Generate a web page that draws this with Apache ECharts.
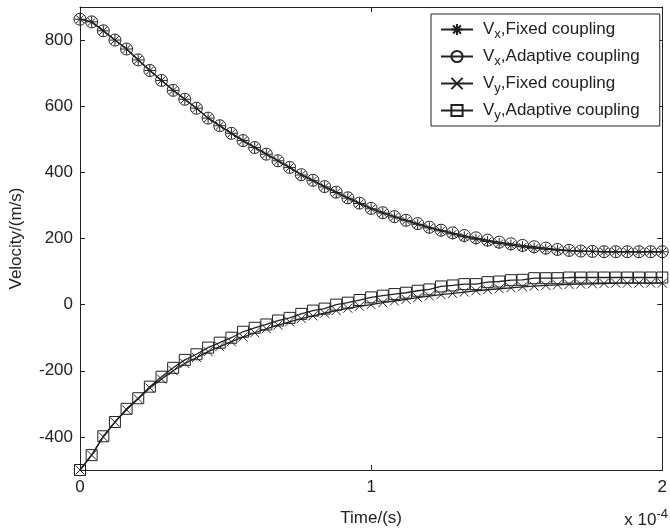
<!DOCTYPE html>
<html>
<head>
<meta charset="utf-8">
<script src="https://cdn.jsdelivr.net/npm/echarts@6/dist/echarts.min.js"></script>
<style>
  html, body { margin: 0; padding: 0; background: #fff; }
  #chart { width: 670px; height: 532px; }
</style>
</head>
<body>
<div id="chart"></div>
<script>
// Time (x 10^-4 s)
var times = [0, 0.04, 0.08, 0.12, 0.16, 0.2, 0.24, 0.28, 0.32, 0.36, 0.4, 0.44, 0.48, 0.52, 0.56, 0.6, 0.64, 0.68, 0.72, 0.76, 0.8, 0.84, 0.88, 0.92, 0.96, 1.0, 1.04, 1.08, 1.12, 1.16, 1.2, 1.24, 1.28, 1.32, 1.36, 1.4, 1.44, 1.48, 1.52, 1.56, 1.6, 1.64, 1.68, 1.72, 1.76, 1.8, 1.84, 1.88, 1.92, 1.96, 2.0];

var vxFixed = [863, 855, 828, 800, 773, 740, 708, 678, 648, 621, 594, 564, 541, 518, 496, 475, 455, 435, 415, 392, 375, 356, 339, 322, 306, 290, 277, 265, 254, 243, 232, 223, 214, 205, 198, 191, 185, 180, 175, 171, 168, 165, 163, 162, 161, 160, 160, 160, 160, 160, 160];
var vxAdaptive = [863, 855, 828, 800, 773, 740, 708, 678, 648, 621, 594, 564, 541, 518, 496, 475, 455, 435, 415, 393, 376, 357, 340, 323, 307, 291, 278, 266, 255, 245, 234, 225, 217, 209, 202, 195, 189, 184, 179, 175, 171, 167, 164, 162, 161, 160, 160, 160, 160, 160, 160];
var vyFixed = [-500, -455, -400, -355, -318, -285, -252, -225, -200, -178, -160, -142, -127, -112, -98, -85, -73, -62, -52, -42, -34, -26, -18, -11, -5, 0, 6, 11, 16, 21, 26, 30, 34, 38, 42, 45, 48, 51, 54, 56, 58, 60, 61, 62, 63, 64, 65, 65, 65, 65, 65];
var vyAdaptive = [-500, -455, -398, -355, -315, -283, -248, -218, -191, -167, -150, -130, -115, -100, -82, -70, -60, -48, -40, -28, -18, -12, 0, 6, 14, 22, 27, 32, 36, 42, 46, 55, 58, 62, 62, 68, 70, 74, 75, 80, 80, 80, 82, 82, 82, 82, 82, 82, 82, 82, 82];

var xTicks = [0, 1, 2];
var yTicks = [-400, -200, 0, 200, 400, 600, 800];

var seriesNames = ['vxFixed', 'vxAdaptive', 'vyFixed', 'vyAdaptive'];
var legendLabels = {
  vxFixed: ['V', 'x', ',Fixed coupling'],
  vxAdaptive: ['V', 'x', ',Adaptive coupling'],
  vyFixed: ['V', 'y', ',Fixed coupling'],
  vyAdaptive: ['V', 'y', ',Adaptive coupling']
};

var INK = '#222';
var FONT = '"Liberation Sans", Arial, sans-serif';

function pairs(ys) {
  return times.map(function (t, i) { return [t, ys[i]]; });
}

var asterisk = 'path://M0,-1L0,1M-1,0L1,0M-0.7,-0.7L0.7,0.7M-0.7,0.7L0.7,-0.7';
var cross = 'path://M-1,-1L1,1M-1,1L1,-1';

function mkSeries(name, data, symbol, size) {
  return {
    name: name,
    type: 'line',
    data: pairs(data),
    symbol: symbol,
    symbolSize: size,
    showAllSymbol: true,
    lineStyle: { color: INK, width: 1.3 },
    itemStyle: { color: 'rgba(0,0,0,0)', borderColor: INK, borderWidth: 1 },
    emphasis: { disabled: true },
    animation: false
  };
}

var chart = echarts.init(document.getElementById('chart'), null, { renderer: 'canvas' });

var axisCommon = {
  axisLine: { show: true, onZero: false, lineStyle: { color: INK, width: 1 } },
  axisTick: { show: true, inside: true, length: 5, lineStyle: { color: INK } },
  splitLine: { show: false }
};

var option = {
  backgroundColor: '#fff',
  animation: false,
  grid: { left: 78, right: 2, top: 7, bottom: 62, containLabel: false },
  xAxis: [
    Object.assign({}, axisCommon, {
      type: 'value', min: 0, max: 2, interval: 1, position: 'bottom',
      name: 'Time/(s)', nameLocation: 'middle', nameGap: 40,
      nameTextStyle: { fontFamily: FONT, fontSize: 17, color: INK },
      axisLabel: { show: true, margin: 9, fontFamily: FONT, fontSize: 17, color: INK,
        customValues: xTicks },
      axisTick: { show: true, inside: true, length: 5, lineStyle: { color: INK }, customValues: xTicks }
    }),
    Object.assign({}, axisCommon, {
      type: 'value', min: 0, max: 2, interval: 1, position: 'top',
      axisLabel: { show: false },
      axisTick: { show: true, inside: true, length: 5, lineStyle: { color: INK }, customValues: xTicks }
    })
  ],
  yAxis: [
    Object.assign({}, axisCommon, {
      type: 'value', min: -500, max: 900, position: 'left',
      name: 'Velocity/(m/s)', nameLocation: 'middle', nameGap: 55, nameRotate: 90,
      nameTextStyle: { fontFamily: FONT, fontSize: 17, color: INK },
      axisLabel: { show: true, margin: 7, fontFamily: FONT, fontSize: 17, color: INK,
        customValues: yTicks },
      axisTick: { show: true, inside: true, length: 5, lineStyle: { color: INK }, customValues: yTicks }
    }),
    Object.assign({}, axisCommon, {
      type: 'value', min: -500, max: 900, position: 'right',
      axisLabel: { show: false },
      axisTick: { show: true, inside: true, length: 5, lineStyle: { color: INK }, customValues: yTicks }
    })
  ],
  legend: {
    orient: 'vertical',
    left: 431, top: 14,
    padding: [4, 20, 4, 9],
    itemWidth: 32, itemHeight: 14, itemGap: 4,
    borderColor: INK, borderWidth: 1, backgroundColor: '#fff',
    selectedMode: false,
    data: seriesNames,
    formatter: function (name) {
      var p = legendLabels[name];
      return '{v|' + p[0] + '}{s|' + p[1] + '}{t|' + p[2] + '}';
    },
    textStyle: {
      color: INK, fontFamily: FONT, fontSize: 17,
      rich: {
        v: { fontFamily: FONT, fontSize: 17, color: INK, lineHeight: 18, padding: [0, 0, 0, 5] },
        s: { fontFamily: FONT, fontSize: 13, color: INK, lineHeight: 18, padding: [10, 0, 0, 0] },
        t: { fontFamily: FONT, fontSize: 17, color: INK, lineHeight: 18 }
      }
    }
  },
  graphic: [
    {
      type: 'text', right: 2, top: 508,
      style: {
        text: '{a|x 10}{b|-4}',
        rich: {
          a: { fontFamily: FONT, fontSize: 17, fill: INK, lineHeight: 20 },
          b: { fontFamily: FONT, fontSize: 13, fill: INK, padding: [0, 0, 12, 0] }
        }
      }
    }
  ],
  series: [
    mkSeries('vxFixed', vxFixed, asterisk, 11),
    mkSeries('vxAdaptive', vxAdaptive, 'circle', 12),
    mkSeries('vyFixed', vyFixed, cross, 9),
    mkSeries('vyAdaptive', vyAdaptive, 'rect', 11)
  ]
};

chart.setOption(option);
</script>
</body>
</html>
